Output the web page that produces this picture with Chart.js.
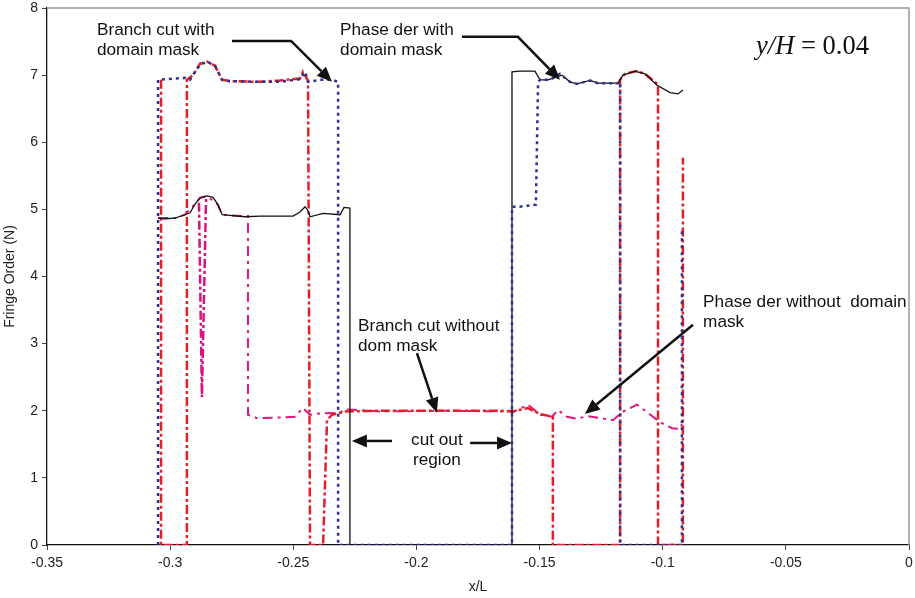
<!DOCTYPE html>
<html>
<head>
<meta charset="utf-8">
<script src="https://cdn.jsdelivr.net/npm/chart.js@4.4.1/dist/chart.umd.min.js"></script>
<style>
  html, body { margin: 0; padding: 0; background: #fff; }
  #wrap { width: 915px; height: 598px; }
</style>
</head>
<body>
<div id="wrap"><canvas id="fringeChart" width="915" height="598"></canvas></div>
<script>
// Phase der with domain mask (black)
const phaseWithX = [-0.3049, -0.3021, -0.2980, -0.2940, -0.2919, -0.2899, -0.2879, -0.2850, -0.2826, -0.2806, -0.2789, -0.2757, -0.2696, -0.2635, -0.2554, -0.2501, -0.2473, -0.2452, -0.2440, -0.2432, -0.2379, -0.2310, -0.2294, -0.2270, -0.2270, -0.1612, -0.1612, -0.1580, -0.1519, -0.1498, -0.1466, -0.1409, -0.1377, -0.1348, -0.1295, -0.1263, -0.1182, -0.1161, -0.1113, -0.1072, -0.1023, -0.0970, -0.0938, -0.0918];
const phaseWithY = [4.87, 4.86, 4.87, 4.92, 4.95, 5.08, 5.17, 5.20, 5.18, 5.07, 4.92, 4.91, 4.89, 4.90, 4.90, 4.90, 4.96, 5.04, 4.98, 4.89, 4.94, 4.92, 5.03, 5.02, 0, 0, 7.05, 7.06, 7.06, 6.93, 6.93, 7.00, 6.90, 6.87, 6.92, 6.88, 6.88, 7.00, 7.06, 7.02, 6.85, 6.74, 6.72, 6.78];

// Branch cut with domain mask (blue dotted)
const branchWithX = [-0.3049, -0.3049, -0.3013, -0.2940, -0.2919, -0.2899, -0.2879, -0.2850, -0.2818, -0.2789, -0.2757, -0.2635, -0.2554, -0.2473, -0.2452, -0.2440, -0.2392, -0.2343, -0.2318, -0.2318, -0.1612, -0.1612, -0.1580, -0.1515, -0.1506, -0.1498, -0.1458, -0.1417, -0.1377, -0.1348, -0.1295, -0.1263, -0.1182, -0.1173, -0.1173, -0.0922, -0.0922];
const branchWithY = [0, 6.93, 6.94, 6.96, 6.93, 7.05, 7.15, 7.20, 7.14, 6.93, 6.91, 6.90, 6.90, 6.94, 7.05, 6.90, 6.93, 6.93, 6.90, 0, 0, 5.04, 5.04, 5.07, 6.90, 6.93, 6.93, 7.02, 6.90, 6.87, 6.92, 6.88, 6.88, 6.90, 0, 0, 4.72];

// Branch cut without dom mask (red dash-dot)
const branchWithoutX = [-0.3037, -0.3037, -0.2932, -0.2932, -0.2907, -0.2879, -0.2850, -0.2818, -0.2789, -0.2757, -0.2635, -0.2554, -0.2473, -0.2461, -0.2440, -0.2432, -0.2379, -0.2363, -0.2343, -0.2290, -0.2148, -0.1864, -0.1661, -0.1612, -0.1547, -0.1498, -0.1446, -0.1446, -0.1173, -0.1173, -0.1153, -0.1104, -0.1072, -0.1019, -0.1019, -0.0918, -0.0918];
const branchWithoutY = [6.93, 0, 0, 6.93, 7.00, 7.17, 7.20, 7.14, 6.93, 6.91, 6.90, 6.92, 6.95, 7.05, 6.92, 0, 0, 1.86, 1.94, 1.99, 2.00, 2.00, 2.00, 1.99, 2.04, 1.95, 1.91, 0, 0, 6.93, 7.02, 7.06, 7.02, 6.86, 0, 0, 5.77];

// Phase der without domain mask (magenta dash-dot)
const phaseWithoutX = [-0.3049, -0.2980, -0.2940, -0.2899, -0.2879, -0.2850, -0.2806, -0.2789, -0.2716, -0.2684, -0.2684, -0.2647, -0.2554, -0.2493, -0.2461, -0.2432, -0.2392, -0.2310, -0.2290, -0.2148, -0.1864, -0.1661, -0.1620, -0.1608, -0.1547, -0.1498, -0.1450, -0.1425, -0.1389, -0.1348, -0.1307, -0.1255, -0.1202, -0.1165, -0.1104, -0.1064, -0.1011, -0.0962, -0.0930, -0.0922];
const phaseWithoutY = [4.87, 4.87, 4.92, 5.08, 5.17, 5.20, 5.07, 4.92, 4.90, 4.90, 1.94, 1.89, 1.90, 1.91, 2.04, 1.94, 1.96, 1.97, 2.02, 1.99, 2.00, 1.99, 2.00, 1.98, 2.09, 1.94, 1.91, 2.01, 1.91, 1.88, 1.92, 1.89, 1.86, 1.98, 2.09, 1.98, 1.83, 1.74, 1.73, 1.80];

// short magenta drop near x = -0.287
const spikeX = [-0.2883, -0.2871, -0.2854];
const spikeY = [5.10, 2.20, 5.18];

const yTicks = [0, 1, 2, 3, 4, 5, 6, 7, 8];

function pts(xs, ys) {
    return xs.map((x, i) => ({ x: x, y: ys[i] }));
}

// callouts, placed in data units
const notes = [
    { lines: ['Branch cut with', 'domain mask'], x: -0.3297, y: 7.67, align: 'left' },
    { lines: ['Phase der with', 'domain mask'], x: -0.2310, y: 7.67, align: 'left' },
    { lines: ['Branch cut without', 'dom mask'], x: -0.2237, y: 3.26, align: 'left' },
    { lines: ['cut out', 'region'], x: -0.1917, y: 1.56, align: 'center' },
    { lines: ['Phase der without  domain', 'mask'], x: -0.0836, y: 3.62, align: 'left' }
];
const arrows = [
    [[-0.2749, 7.51], [-0.2509, 7.51], [-0.2343, 6.90]],
    [[-0.1815, 7.57], [-0.1588, 7.57], [-0.1417, 6.93]],
    [[-0.1998, 2.86], [-0.1917, 1.97]],
    [[-0.2099, 1.55], [-0.2262, 1.55]],
    [[-0.1782, 1.52], [-0.1612, 1.52]],
    [[-0.0877, 3.28], [-0.1316, 1.95]]
];

const calloutPlugin = {
    id: 'callouts',
    beforeDatasetsDraw(chart) {
        const { ctx, chartArea } = chart;
        ctx.save();
        ctx.strokeStyle = '#9a9a9a';
        ctx.lineWidth = 1.5;
        ctx.beginPath();
        ctx.moveTo(chartArea.left, chartArea.top);
        ctx.lineTo(chartArea.right, chartArea.top);
        ctx.lineTo(chartArea.right, chartArea.bottom);
        ctx.stroke();
        ctx.restore();
    },
    afterDatasetsDraw(chart) {
        const { ctx } = chart;
        const sx = chart.scales.x, sy = chart.scales.y;
        ctx.save();
        ctx.fillStyle = '#111';
        ctx.font = "17.2px 'Liberation Sans', Arial, sans-serif";
        ctx.textBaseline = 'middle';
        notes.forEach(n => {
            ctx.textAlign = n.align;
            const px = sx.getPixelForValue(n.x);
            const py = sy.getPixelForValue(n.y);
            n.lines.forEach((t, i) => ctx.fillText(t, px, py + i * 20));
        });

        ctx.strokeStyle = '#111';
        ctx.lineWidth = 2.5;
        arrows.forEach(a => {
            const p = a.map(q => [sx.getPixelForValue(q[0]), sy.getPixelForValue(q[1])]);
            const tip = p[p.length - 1], prev = p[p.length - 2];
            const ang = Math.atan2(tip[1] - prev[1], tip[0] - prev[0]);
            const len = 15, hw = 6.5;
            const bx = tip[0] - len * Math.cos(ang), by = tip[1] - len * Math.sin(ang);
            ctx.beginPath();
            ctx.moveTo(p[0][0], p[0][1]);
            for (let i = 1; i < p.length - 1; i++) ctx.lineTo(p[i][0], p[i][1]);
            ctx.lineTo(bx, by);
            ctx.stroke();
            ctx.beginPath();
            ctx.moveTo(tip[0], tip[1]);
            ctx.lineTo(bx + hw * Math.sin(ang), by - hw * Math.cos(ang));
            ctx.lineTo(bx - hw * Math.sin(ang), by + hw * Math.cos(ang));
            ctx.closePath();
            ctx.fill();
        });

        // y/H = 0.04
        const lx = sx.getPixelForValue(-0.0621), ly = sy.getPixelForValue(7.42);
        ctx.textAlign = 'left';
        ctx.font = "italic 26.5px 'Liberation Serif', 'Times New Roman', serif";
        ctx.fillText('y/H', lx, ly);
        const w = ctx.measureText('y/H').width;
        ctx.font = "26.5px 'Liberation Serif', 'Times New Roman', serif";
        ctx.fillText(' = 0.04', lx + w, ly);
        ctx.restore();
    }
};

function initFringeChart() {
    const ctx = document.getElementById('fringeChart');
    Chart.defaults.font.family = "'Liberation Sans', Arial, sans-serif";
    Chart.defaults.font.size = 14;
    Chart.defaults.color = '#222';

    new Chart(ctx.getContext('2d'), {
        type: 'line',
        data: {
            datasets: [{
                label: 'Phase der with domain mask',
                data: pts(phaseWithX, phaseWithY),
                borderColor: '#111111',
                borderWidth: 1.3,
                order: 1
            }, {
                label: 'Branch cut with domain mask',
                data: pts(branchWithX, branchWithY),
                borderColor: '#2e3192',
                borderWidth: 2.5,
                borderDash: [3, 4],
                order: 0
            }, {
                label: 'Branch cut without dom mask',
                data: pts(branchWithoutX, branchWithoutY),
                borderColor: '#e3202a',
                borderWidth: 2.5,
                borderDash: [9, 3, 3, 3],
                order: 2
            }, {
                label: 'Phase der without domain mask',
                data: pts(phaseWithoutX, phaseWithoutY),
                borderColor: '#e2187f',
                borderWidth: 2,
                borderDash: [10, 5, 3, 5],
                order: 3
            }, {
                label: 'Phase der without domain mask (drop)',
                data: pts(spikeX, spikeY),
                borderColor: '#d8147c',
                borderWidth: 2.5,
                borderDash: [9, 3, 3, 3],
                order: 4
            }]
        },
        options: {
            responsive: false,
            animation: false,
            layout: { padding: { top: 8, right: 6, left: 0, bottom: 0 } },
            elements: { point: { radius: 0 }, line: { tension: 0, fill: false } },
            plugins: {
                legend: { display: false },
                tooltip: { enabled: false }
            },
            scales: {
                x: {
                    type: 'linear',
                    min: -0.35,
                    max: 0,
                    afterFit: s => {
                        s.height = 53;
                        s.paddingLeft = 0;
                        s.paddingRight = 0;
                    },
                    ticks: {
                        stepSize: 0.05,
                        padding: 5,
                        maxRotation: 0,
                        callback: v => String(Number(v.toFixed(2)))
                    },
                    grid: { drawOnChartArea: false, tickLength: 5, color: '#444' },
                    border: { color: '#111', width: 1.3 },
                    title: { display: true, text: 'x/L', padding: { top: 2, bottom: 2 } }
                },
                y: {
                    min: 0,
                    max: 8,
                    afterFit: s => {
                        s.width = 47;
                        s.paddingTop = 0;
                        s.paddingBottom = 0;
                    },
                    afterBuildTicks: s => { s.ticks = yTicks.map(v => ({ value: v })); },
                    ticks: { padding: 4 },
                    grid: { drawOnChartArea: false, tickLength: 5, color: '#444' },
                    border: { color: '#111', width: 1.3 },
                    title: { display: true, text: 'Fringe Order (N)', padding: { top: 2, bottom: 2 } }
                }
            }
        },
        plugins: [calloutPlugin]
    });
}

document.addEventListener('DOMContentLoaded', function() {
    initFringeChart();
});
</script>
</body>
</html>
